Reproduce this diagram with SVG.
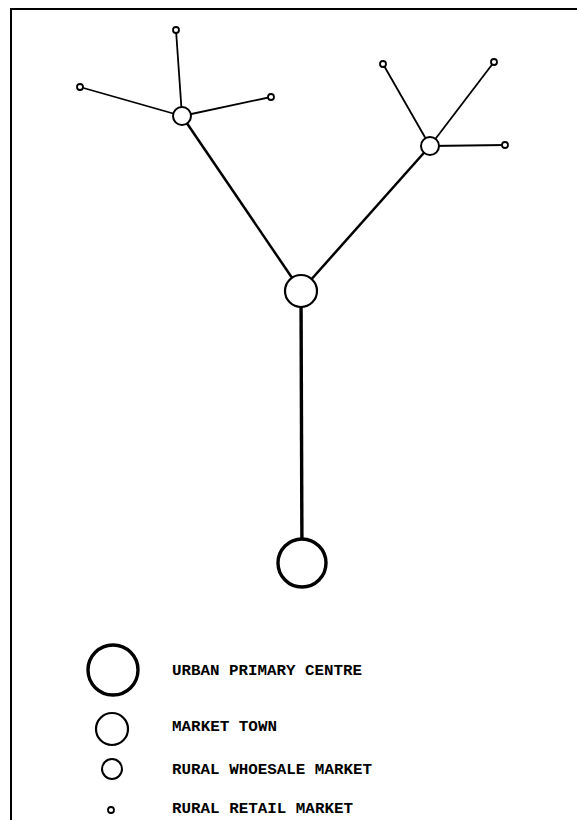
<svg xmlns="http://www.w3.org/2000/svg" width="577" height="820" viewBox="0 0 577 820">
<style>
.frame{fill:none;stroke:#000;stroke-width:2}
.c{fill:#fff;stroke:#000}
.urban{stroke-width:3.4}
.town{stroke-width:2.2}
.whole{stroke-width:2}
.retail{stroke-width:1.8}
.l{stroke:#000;fill:none}
.trunk{stroke-width:3.4}
.branch{stroke-width:2.5}
.twig{stroke-width:1.8}
text{font-family:"Liberation Mono","DejaVu Sans Mono",monospace;font-size:15px;font-weight:bold;fill:#000}
</style>
<rect width="577" height="820" fill="#fff"/>
<path class="frame" d="M11 820 V9 H577"/>
<g id="connectors">
<line class="l trunk" x1="301" y1="291" x2="302" y2="563"/>
<line class="l branch" x1="301" y1="291" x2="182" y2="116"/>
<line class="l branch" x1="301" y1="291" x2="430" y2="146"/>
<line class="l twig" x1="182" y1="116" x2="176" y2="30"/>
<line class="l twig" x1="182" y1="116" x2="80" y2="87"/>
<line class="l twig" x1="182" y1="116" x2="271" y2="97"/>
<line class="l twig" x1="430" y1="146" x2="383" y2="64"/>
<line class="l twig" x1="430" y1="146" x2="494" y2="62"/>
<line class="l twig" x1="430" y1="146" x2="505" y2="145"/>
</g>
<g id="urban"><circle class="c urban" cx="302" cy="563" r="24"/></g>
<g id="town"><circle class="c town" cx="301" cy="291" r="16"/></g>
<g id="wholesale-left"><circle class="c whole" cx="182" cy="116" r="9"/></g>
<g id="wholesale-right"><circle class="c whole" cx="430" cy="146" r="9"/></g>
<g id="retail-1"><circle class="c retail" cx="176" cy="30" r="3"/></g>
<g id="retail-2"><circle class="c retail" cx="80" cy="87" r="3"/></g>
<g id="retail-3"><circle class="c retail" cx="271" cy="97" r="3"/></g>
<g id="retail-4"><circle class="c retail" cx="383" cy="64" r="3"/></g>
<g id="retail-5"><circle class="c retail" cx="494" cy="62" r="3"/></g>
<g id="retail-6"><circle class="c retail" cx="505" cy="145" r="3"/></g>
<g id="legend">
<circle class="c urban" cx="113" cy="670" r="25"/>
<circle class="c town" cx="112" cy="729" r="16"/>
<circle class="c whole" cx="112" cy="769" r="10"/>
<circle class="c retail" cx="111" cy="810" r="3"/>
<text x="172" y="675" textLength="190" lengthAdjust="spacingAndGlyphs">URBAN PRIMARY CENTRE</text>
<text x="172" y="731" textLength="105" lengthAdjust="spacingAndGlyphs">MARKET TOWN</text>
<text x="172" y="774" textLength="200" lengthAdjust="spacingAndGlyphs">RURAL WHOESALE MARKET</text>
<text x="172" y="813" textLength="181" lengthAdjust="spacingAndGlyphs">RURAL RETAIL MARKET</text>
</g>
</svg>
